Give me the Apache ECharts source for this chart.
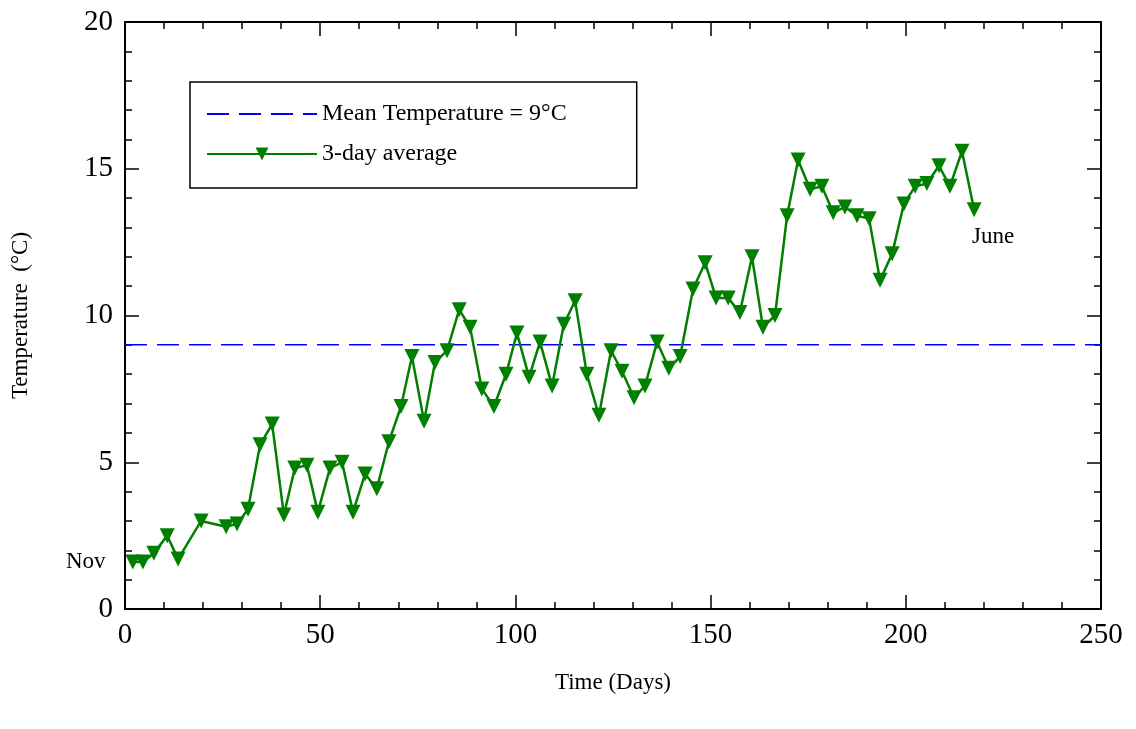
<!DOCTYPE html>
<html><head><meta charset="utf-8">
<script src="https://cdn.jsdelivr.net/npm/echarts@6/dist/echarts.min.js"></script>
<style>html,body{margin:0;padding:0;background:#fff}#c{width:1136px;height:729px}</style>
</head><body><div id="c"></div>
<script>
const days = [2,4.6,7.4,10.8,13.6,19.5,25.9,28.7,31.5,34.6,37.7,40.7,43.5,46.6,49.4,52.5,55.6,58.4,61.5,64.5,67.6,70.7,73.5,76.6,79.4,82.5,85.6,88.4,91.4,94.5,97.6,100.4,103.5,106.3,109.4,112.4,115.3,118.3,121.4,124.5,127.3,130.4,133.2,136.3,139.3,142.2,145.5,148.6,151.4,154.5,157.5,160.6,163.4,166.5,169.6,172.4,175.5,178.5,181.4,184.4,187.5,190.6,193.4,196.5,199.5,202.4,205.4,208.5,211.3,214.4,217.5];
const temps = [1.6,1.6,1.9,2.5,1.7,3.0,2.8,2.9,3.4,5.6,6.3,3.2,4.8,4.9,3.3,4.8,5.0,3.3,4.6,4.1,5.7,6.9,8.6,6.4,8.4,8.8,10.2,9.6,7.5,6.9,8.0,9.4,7.9,9.1,7.6,9.7,10.5,8.0,6.6,8.8,8.1,7.2,7.6,9.1,8.2,8.6,10.9,11.8,10.6,10.6,10.1,12.0,9.6,10.0,13.4,15.3,14.3,14.4,13.5,13.7,13.4,13.3,11.2,12.1,13.8,14.4,14.5,15.1,14.4,15.6,13.6];
const meanTemp = 9;
const F = 'Liberation Serif, Times New Roman, serif';
const chart = echarts.init(document.getElementById('c'));
const tick = {inside:true,length:14,lineStyle:{color:'#000',width:1.5}};
const minor = {show:true,splitNumber:5,length:7,lineStyle:{color:'#000',width:1.5}};
const line = {show:true,onZero:false,lineStyle:{color:'#000',width:2}};
const lbl = {fontFamily:F,fontSize:29,color:'#000',margin:12};
chart.setOption({
  animation:false,
  grid:{left:125,right:35,top:22,bottom:120},
  xAxis:[{type:'value',min:0,max:250,interval:50,name:'Time (Days)',nameLocation:'middle',nameGap:62,
    nameTextStyle:{fontFamily:F,fontSize:23,color:'#000'},axisLabel:lbl,axisTick:tick,minorTick:minor,axisLine:line,splitLine:{show:false}},
    {type:'value',position:'top',min:0,max:250,interval:50,axisLabel:{show:false},axisTick:tick,minorTick:minor,axisLine:line,splitLine:{show:false}}],
  yAxis:[{type:'value',min:0,max:20,interval:5,name:'Temperature  (°C)',nameLocation:'middle',nameGap:93,
    nameTextStyle:{fontFamily:F,fontSize:23,color:'#000'},axisLabel:lbl,axisTick:tick,minorTick:minor,axisLine:line,splitLine:{show:false}},
    {type:'value',position:'right',min:0,max:20,interval:5,axisLabel:{show:false},axisTick:tick,minorTick:minor,axisLine:line,splitLine:{show:false}}],
  legend:{orient:'vertical',left:190,top:82,padding:[20,70,22,16],itemGap:16,itemWidth:110,itemHeight:16,
    borderColor:'#000',borderWidth:1.5,textStyle:{fontFamily:F,fontSize:24,color:'#000'},
    data:[{name:'Mean Temperature = 9°C',itemStyle:{opacity:0}},{name:'3-day average'}]},
  series:[
    {name:'Mean Temperature = 9°C',type:'line',data:[[0,meanTemp],[250,meanTemp]],symbol:'circle',symbolSize:0,showSymbol:false,
      lineStyle:{color:'#0000ff',width:1.5,type:[22,10]},itemStyle:{color:'#0000ff'}},
    {name:'3-day average',type:'line',data:days.map((d,i)=>[d,temps[i]]),
      symbol:'triangle',symbolRotate:180,symbolSize:15,
      lineStyle:{color:'#007f00',width:2.5},itemStyle:{color:'#007f00'}}
  ],
  graphic:[
    {type:'text',left:66,top:550,style:{text:'Nov',font:'23px '+F,fill:'#000'}},
    {type:'text',left:972,top:225,style:{text:'June',font:'23px '+F,fill:'#000'}}
  ]
});
</script></body></html>
